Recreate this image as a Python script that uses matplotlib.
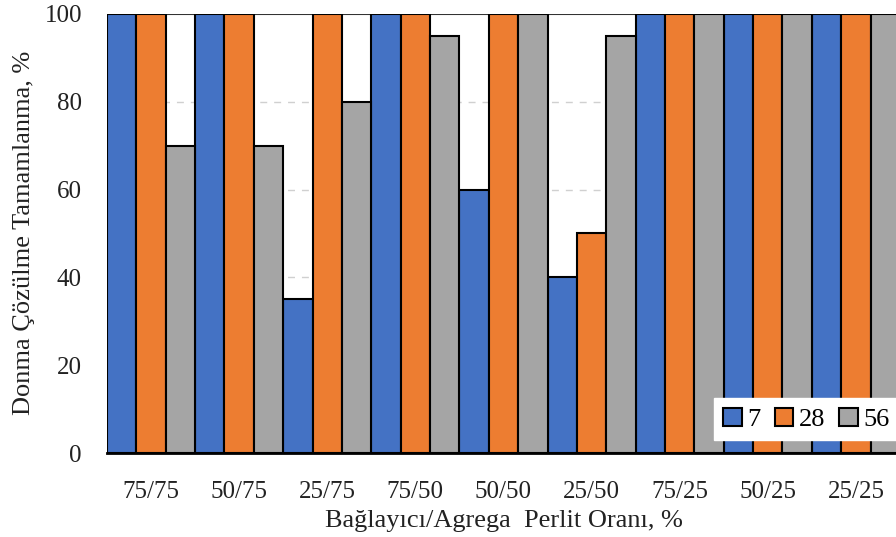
import numpy as np
import matplotlib
matplotlib.use("Agg")
import matplotlib.pyplot as plt

# Data
categories = ['75/75', '50/75', '25/75', '75/50', '50/50', '25/50', '75/25', '50/25', '25/25']
series_names = ['7', '28', '56']
day7 = [100, 100, 35, 100, 60, 40, 100, 100, 100]
day28 = [100, 100, 100, 100, 100, 50, 100, 100, 100]
day56 = [70, 70, 80, 95, 100, 95, 100, 100, 100]
colors = ['#4472C4', '#ED7D31', '#A5A5A5']

plt.rcParams['font.family'] = ['Liberation Serif', 'DejaVu Serif']
plt.rcParams['font.size'] = 18

fig = plt.figure(figsize=(8.96, 5.37), dpi=100)
ax = fig.add_axes([0.1194, 0.1564, 0.885, 0.8176])

x = np.arange(len(categories))
w = 1 / 3
for i, (vals, name) in enumerate(zip([day7, day28, day56], series_names)):
    ax.bar(x + (i - 1) * w, vals, width=w, color=colors[i], edgecolor='black',
           linewidth=1.5, label=name, zorder=3)

ax.set_xlim(-0.5, len(categories) - 0.5)
ax.set_ylim(0, 100)
ax.set_yticks([0, 20, 40, 60, 80, 100])
ax.set_xticks(x)
ax.set_xticklabels(categories)
ax.tick_params(axis='both', length=0, labelsize=18, colors='#222222')
ax.tick_params(axis='x', pad=20)
ax.tick_params(axis='y', pad=18)

for y in [20, 40, 60, 80]:
    ax.axhline(y, color='#d0d0d0', linestyle=(0, (5, 5)), linewidth=1, zorder=1)
ax.axhline(100, color='#333333', linewidth=1.5, zorder=2)

for s in ['top', 'right', 'left']:
    ax.spines[s].set_visible(False)
ax.spines['bottom'].set_color('black')
ax.spines['bottom'].set_linewidth(2)
ax.spines['bottom'].set_zorder(4)

fig.text(0.027, 0.567, 'Donma Çözülme Tamamlanma, %', rotation=90,
         ha='center', va='center', fontsize=19, color='#222222')
fig.text(0.5625, 0.03, 'Bağlayıcı/Agrega  Perlit Oranı, %',
         ha='center', va='center', fontsize=19, color='#222222')

leg = ax.legend(ncol=3, loc='lower right', bbox_to_anchor=(1.003, 0.18),
                bbox_transform=fig.transFigure, borderaxespad=0,
                handlelength=0.7, handleheight=0.7, handletextpad=0.2,
                columnspacing=0.55, fancybox=False, framealpha=1,
                edgecolor='white', fontsize=19, borderpad=0.35)
leg.set_zorder(5)

fig.savefig('out.png', dpi=100)
